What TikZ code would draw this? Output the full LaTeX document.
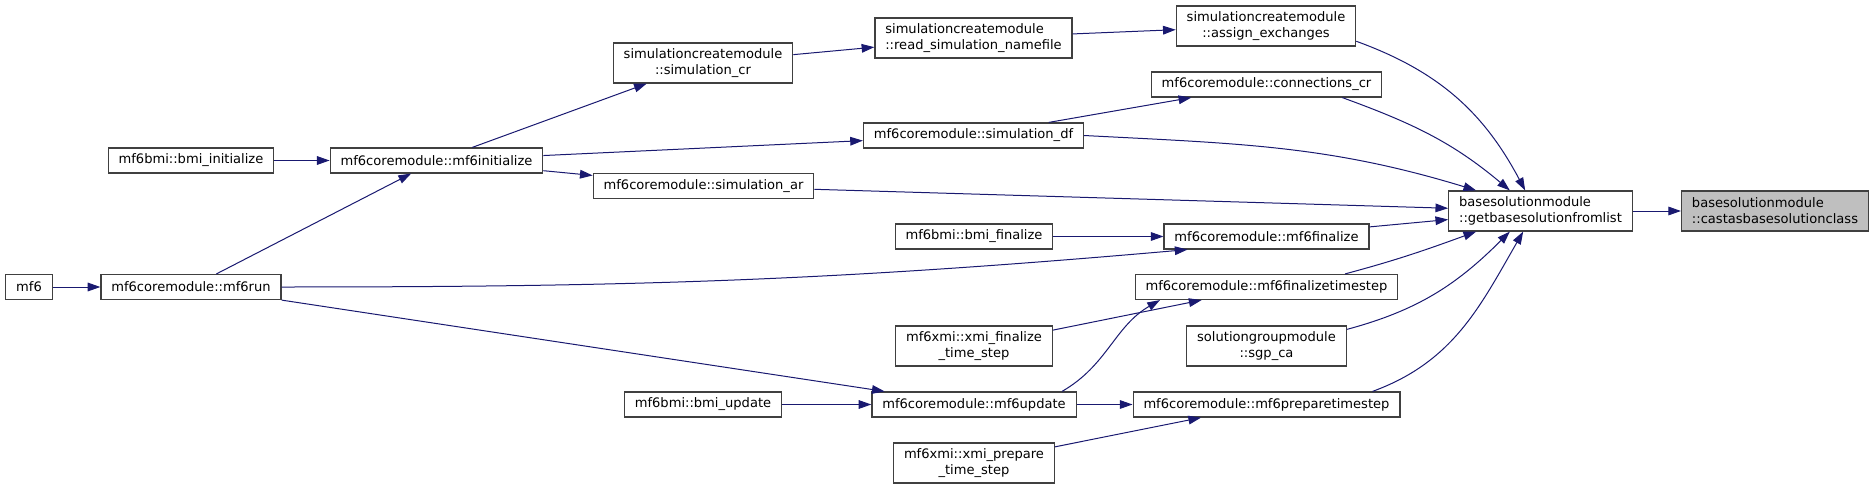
\documentclass[tikz,border=0pt]{standalone}
\usepackage{fontspec}
\setmainfont{DejaVu Sans}
\usetikzlibrary{arrows.meta, positioning, calc}
\definecolor{callblue}{HTML}{191970}
\definecolor{boxframe}{HTML}{404040}
\definecolor{focusgrey}{HTML}{BFBFBF}
\tikzset{
  fn/.style={rectangle, draw=boxframe, fill=white, line width=0.9pt,
             font=\fontsize{9.8}{12}\selectfont, inner xsep=7.8pt, inner ysep=1pt,
             minimum height=18.75pt},
  fn2/.style={fn, align=center, minimum height=30pt},
  fnl/.style={fn, align=left, minimum height=30pt},
  focus/.style={fnl, fill=focusgrey},
  call/.style={-{Triangle[length=9.5pt,width=6.5pt]}, line width=0.75pt, callblue},
}

\begin{document}
\begin{tikzpicture}[x=0.75pt, y=-0.75pt]
  \useasboundingbox (0,0) rectangle (1875,489);
  % callers, left to right
  \node[fn] (mf6) at (29,287) {mf6};
  \node[fn] (mf6run) at (191,287) {mf6coremodule::mf6run};
  \node[fn] (bmiinit) at (191,160.5) {mf6bmi::bmi\_initialize};
  \node[fn] (mf6init) at (436.5,160.5) {mf6coremodule::mf6initialize};
  \node[fn2] (simcr) at (703,63) {simulationcreatemodule\\::simulation\_cr};
  \node[fn] (simar) at (703.5,186) {mf6coremodule::simulation\_ar};
  \node[fn] (bmiupd) at (703,404.5) {mf6bmi::bmi\_update};
  \node[fnl] (readsim) at (973.5,38) {simulationcreatemodule\\::read\_simulation\_namefile};
  \node[fn] (simdf) at (973.5,135.5) {mf6coremodule::simulation\_df};
  \node[fn] (bmifin) at (974,236.5) {mf6bmi::bmi\_finalize};
  \node[fn2] (xmifin) at (974,346) {mf6xmi::xmi\_finalize\\\_time\_step};
  \node[fn] (mf6upd) at (974,404.5) {mf6coremodule::mf6update};
  \node[fn2] (xmiprep) at (974,463) {mf6xmi::xmi\_prepare\\\_time\_step};
  \node[fn2] (assign) at (1266,26) {simulationcreatemodule\\::assign\_exchanges};
  \node[fn] (conncr) at (1266.5,84.5) {mf6coremodule::connections\_cr};
  \node[fn] (mf6fin) at (1266.5,236.5) {mf6coremodule::mf6finalize};
  \node[fn] (mf6fts) at (1266.5,287) {mf6coremodule::mf6finalizetimestep};
  \node[fn2] (sgpca) at (1266.5,346) {solutiongroupmodule\\::sgp\_ca};
  \node[fn] (mf6pts) at (1266.5,404.5) {mf6coremodule::mf6preparetimestep};
  \node[fnl] (getbase) at (1540.5,211) {basesolutionmodule\\::getbasesolutionfromlist};
  \node[focus] (castas) at (1775,211) {basesolutionmodule\\::castasbasesolutionclass};
  % calls
  \draw[call] (mf6) -- (mf6run);
  \draw[call] (bmiinit) -- (mf6init);
  \draw[call] (mf6run) -- (mf6init);
  \draw[call] (mf6init) -- (simcr);
  \draw[call] (simcr) -- (readsim);
  \draw[call] (readsim) -- (assign);
  \draw[call] (mf6init) -- (simdf);
  \draw[call] (simdf) -- (conncr);
  \draw[call] (mf6init) -- (simar);
  \draw[call] (bmifin) -- (mf6fin);
  \draw[call] (mf6run.east) to[out=0, in=185] ([xshift=18pt]mf6fin.south west);
  \draw[call] (mf6run.south east) -- ([xshift=10pt]mf6upd.north west);
  \draw[call] (bmiupd) -- (mf6upd);
  \draw[call] ([xshift=-11pt]mf6upd.north east) to[out=30, in=210] ([xshift=19pt]mf6fts.south west);
  \draw[call] (xmifin) -- (mf6fts);
  \draw[call] (mf6upd) -- (mf6pts);
  \draw[call] (xmiprep) -- (mf6pts);
  \draw[call] ([yshift=4pt]assign.south east) to[out=-20, in=118] ([xshift=-11.5pt]getbase.north);
  \draw[call] ([xshift=-30pt]conncr.south east) to[out=-20, in=140] ([xshift=-23pt]getbase.north);
  \draw[call] (simdf.east) to[out=-3, in=163] ([xshift=21pt]getbase.north west);
  \draw[call] (simar) -- (getbase);
  \draw[call] (mf6fin) -- (getbase);
  \draw[call] ([xshift=-40pt]mf6fts.north east) to[out=15, in=200] ([xshift=21pt]getbase.south west);
  \draw[call] ([yshift=-3pt]sgpca.north east) to[out=15, in=225] ([xshift=-23pt]getbase.south);
  \draw[call] ([xshift=-21pt]mf6pts.north east) to[out=20, in=240] ([xshift=-13pt]getbase.south);
  \draw[call] (getbase) -- (castas);
\end{tikzpicture}
\end{document}
